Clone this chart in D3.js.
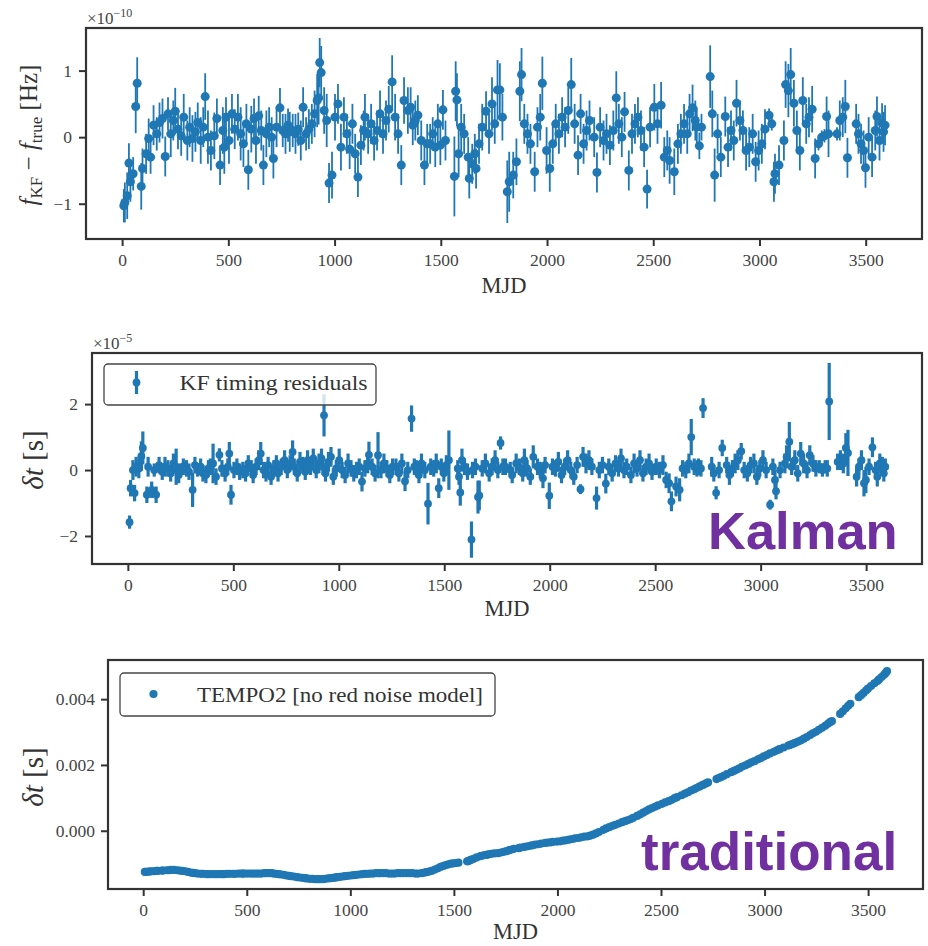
<!DOCTYPE html>
<html>
<head>
<meta charset="utf-8">
<script src="https://cdn.jsdelivr.net/npm/d3@7/dist/d3.min.js"></script>
<style>
  body { margin: 0; background: #fff; }
  svg text { font-family: "Liberation Serif", "DejaVu Serif", serif; }
</style>
</head>
<body>
<svg id="fig" width="928" height="946"></svg>
<script>
// observation epochs (MJD, offset from start), shared by all three panels
const mjd = [
  8, 13, 24, 32, 39, 52, 64, 71, 90, 96, 113, 125, 134, 148, 163, 176,
  190, 203, 216, 229, 241, 250, 263, 278, 290, 307, 318, 331, 345, 356,
  370, 382, 391, 404, 418, 434, 446, 461, 474, 481, 489, 503, 517, 530,
  545, 558, 571, 585, 594, 608, 621, 630, 643, 655, 665, 679, 692, 704, 712,
  727, 743, 756, 769, 781, 789, 803, 816, 829, 841, 852, 866, 879, 893,
  906, 918, 925, 930, 937, 951, 963, 974, 988, 1002, 1016, 1030, 1044, 1058, 1071,
  1084, 1097, 1110, 1124, 1137, 1143, 1158, 1172, 1186, 1200, 1214, 1228, 1242, 1255,
  1271, 1285, 1299, 1314, 1327, 1345, 1358, 1368, 1380, 1392, 1408, 1423, 1436,
  1450, 1462, 1474, 1486, 1498, 1510, 1522, 1564, 1570, 1576, 1584, 1596, 1610,
  1629, 1634, 1648, 1660, 1666, 1680, 1695, 1713, 1727, 1741, 1754, 1767, 1778, 1790,
  1813, 1822, 1841, 1856, 1872, 1880, 1893, 1908, 1922, 1942, 1955, 1968, 1978,
  1998, 2013, 2027, 2041, 2056, 2071, 2085, 2100, 2114, 2130, 2146, 2158,
  2172, 2186, 2200, 2222, 2235, 2250, 2266, 2280, 2296, 2312, 2326, 2338,
  2352, 2365, 2385, 2400, 2414, 2428, 2442, 2457, 2471, 2485, 2505, 2520,
  2537, 2552, 2566, 2577, 2599, 2616, 2630, 2645, 2660, 2671, 2685, 2698,
  2705, 2717, 2727, 2768, 2778, 2789, 2803, 2818, 2839, 2852, 2866, 2879,
  2892, 2908, 2922, 2937, 2952, 2968, 2982, 2996, 3011, 3026, 3045, 3058,
  3068, 3073, 3092, 3115, 3123, 3136, 3147, 3162, 3176, 3190, 3204, 3220, 3233,
  3248, 3262, 3278, 3293, 3306, 3316, 3325, 3365, 3378, 3392, 3404, 3414,
  3455, 3466, 3478, 3490, 3499, 3514, 3530, 3545, 3553, 3565, 3577, 3584, 3591
];

// top: f_KF - f_true, units of 1e-10 Hz
const fKF = [
  -1.03, -0.98, -0.88, -0.39, -0.67, -0.55, 0.46, 0.81, -0.74, -0.47, -0.25, -0.02, -0.30, 0.18, 0.05, 0.22,
  0.28, -0.29, 0.35, 0.05, 0.25, 0.39, 0.12, 0.02, 0.3, -0.05, 0.15, -0.02, 0.08, 0.22,
  -0.05, 0.15, 0.61, 0.0, -0.2, 0.02, 0.28, -0.42, 0.1, -0.15, 0.3, -0.05, 0.35, 0.12,
  0.3, 0.05, -0.1, 0.2, -0.49, 0.12, 0.28, -0.05, 0.32, 0.1, -0.42, 0.05, 0.15, 0.0, -0.32,
  0.15, 0.44, 0.1, 0.05, 0.18, 0.08, 0.1, 0.05, 0.12, -0.05, 0.45, 0.05, 0.12, 0.2,
  0.35, 0.55, 0.59, 1.12, 0.97, 0.4, 0.25, -0.69, -0.57, 0.3, 0.5, -0.15, 0.3, 0.05, -0.18,
  0.2, -0.25, -0.6, -0.12, 0.1, 0.3, 0.05, 0.2, -0.05, 0.1, 0.35, 0.05, 0.25, 0.42,
  0.83, 0.3, 0.05, -0.42, 0.55, 0.4, 0.45, 0.18, 0.25, 0.33, -0.05, -0.42, -0.1,
  -0.1, 0.05, -0.15, 0.2, -0.12, 0.41, -0.05, -0.59, 0.69, 0.56, -0.25, 0.15, 0.05,
  -0.3, -0.62, -0.4, -0.25, -0.47, -0.1, 0.15, 0.39, 0.05, 0.5, 0.2, 0.71, 0.71, 0.3,
  -0.82, -0.67, -0.57, -0.37, 0.69, 0.94, 0.2, 0.05, -0.1, -0.52, 0.15, 0.3, 0.81,
  -0.2, -0.47, -0.1, 0.2, 0.05, 0.3, 0.15, 0.4, 0.79, 0.2, -0.27, 0.35,
  -0.1, 0.1, 0.25, 0.0, -0.53, 0.15, -0.05, 0.05, -0.12, 0.1, 0.59, 0.2,
  0.0, 0.38, -0.5, 0.05, 0.2, 0.3, 0.1, -0.15, -0.78, 0.15, 0.45, 0.2,
  0.48, -0.3, -0.2, -0.35, -0.52, -0.1, 0.05, 0.2, 0.05, 0.35, 0.44, 0.25,
  0.15, -0.13, 0.15, 0.91, 0.35, -0.57, 0.05, -0.3, 0.31, -0.15, 0.1, -0.05,
  0.51, 0.25, 0.1, -0.2, -0.15, 0.05, -0.37, -0.2, -0.1, 0.12, 0.33, 0.2,
  -0.67, -0.55, -0.42, -0.05, 0.79, 0.7, 0.94, 0.51, 0.1, -0.2, 0.55, 0.2, 0.3,
  0.42, -0.32, -0.1, 0.0, 0.02, 0.31, 0.05, 0.05, 0.25, 0.3, 0.46, -0.31,
  0.2, 0.05, -0.1, -0.2, -0.46, 0.0, -0.3, 0.1, 0.31, -0.05, 0.21, 0.08, 0.18
];
const fKFErr = [
  0.25, 0.3, 0.35, 0.3, 0.3, 0.25, 0.4, 0.39, 0.35, 0.3, 0.3, 0.3, 0.25, 0.3, 0.25, 0.3,
  0.3, 0.3, 0.25, 0.35, 0.3, 0.35, 0.3, 0.3, 0.35, 0.3, 0.3, 0.35, 0.3, 0.3,
  0.35, 0.3, 0.35, 0.4, 0.3, 0.35, 0.3, 0.3, 0.35, 0.4, 0.3, 0.35, 0.3, 0.3,
  0.35, 0.4, 0.35, 0.3, 0.3, 0.35, 0.3, 0.35, 0.3, 0.3, 0.3, 0.35, 0.3, 0.3, 0.3,
  0.3, 0.3, 0.25, 0.3, 0.25, 0.3, 0.25, 0.3, 0.25, 0.3, 0.3, 0.25, 0.3, 0.3,
  0.35, 0.4, 0.4, 0.37, 0.4, 0.35, 0.4, 0.3, 0.35, 0.35, 0.3, 0.35, 0.3, 0.3, 0.3,
  0.3, 0.3, 0.3, 0.3, 0.3, 0.35, 0.3, 0.3, 0.3, 0.3, 0.35, 0.3, 0.3, 0.35,
  0.4, 0.35, 0.3, 0.3, 0.35, 0.35, 0.3, 0.3, 0.3, 0.3, 0.3, 0.3, 0.3,
  0.3, 0.25, 0.3, 0.3, 0.3, 0.3, 0.3, 0.6, 0.45, 0.4, 0.35, 0.35, 0.3,
  0.3, 0.3, 0.3, 0.3, 0.3, 0.3, 0.35, 0.3, 0.3, 0.4, 0.3, 0.45, 0.4, 0.35,
  0.47, 0.45, 0.35, 0.35, 0.45, 0.4, 0.3, 0.3, 0.3, 0.3, 0.3, 0.35, 0.4,
  0.35, 0.35, 0.3, 0.3, 0.3, 0.3, 0.3, 0.35, 0.4, 0.3, 0.3, 0.3,
  0.3, 0.3, 0.3, 0.3, 0.3, 0.3, 0.3, 0.3, 0.3, 0.3, 0.4, 0.3,
  0.3, 0.3, 0.3, 0.3, 0.3, 0.3, 0.3, 0.3, 0.29, 0.3, 0.35, 0.3,
  0.35, 0.3, 0.3, 0.35, 0.35, 0.3, 0.3, 0.3, 0.3, 0.3, 0.35, 0.3,
  0.3, 0.2, 0.2, 0.47, 0.35, 0.4, 0.3, 0.3, 0.3, 0.3, 0.3, 0.3,
  0.35, 0.3, 0.3, 0.3, 0.3, 0.3, 0.3, 0.3, 0.3, 0.3, 0.1, 0.1,
  0.3, 0.3, 0.3, 0.3, 0.35, 0.4, 0.4, 0.35, 0.3, 0.3, 0.35, 0.3, 0.3,
  0.35, 0.3, 0.1, 0.1, 0.1, 0.3, 0.35, 0.1, 0.3, 0.3, 0.4, 0.3,
  0.3, 0.3, 0.3, 0.3, 0.3, 0.3, 0.3, 0.3, 0.3, 0.3, 0.3, 0.3, 0.3
];

// middle: KF timing residuals, units of 1e-5 s
const dtKF = [
  -1.58, -0.55, 0.0, -0.70, 0.1, 0.05, 0.42, 0.67, -0.75, 0.1, -0.6, 0.0, -0.75, 0.15, -0.05, 0.1,
  0.05, -0.1, 0.2, 0.1, -0.15, 0.0, 0.1, 0.05, -0.05, -0.6, 0.15, 0.0, 0.1, -0.1,
  -0.15, 0.05, 0.1, 0.2, -0.2, 0.46, 0.05, -0.1, 0.1, 0.5, -0.75, 0.0, 0.1, -0.05,
  0.0, -0.1, 0.2, 0.05, -0.15, 0.1, 0.3, 0.5, 0.0, -0.1, 0.15, -0.2, 0.05, 0.2, -0.1,
  0.1, 0.3, 0.0, 0.2, 0.55, 0.1, -0.1, 0.25, 0.15, -0.05, 0.3, 0.1, 0.35, 0.0,
  0.2, 0.35, 0.1, 1.66, -0.1, 0.25, 0.4, -0.2, 0.05, 0.3, 0.0, -0.15, 0.2, 0.05, -0.1,
  0.0, 0.1, -0.35, 0.05, 0.2, 0.46, 0.1, -0.1, 0.45, 0.0, 0.2, 0.05, -0.15, 0.1,
  0.1, -0.1, 0.2, -0.34, 0.0, 1.56, 0.1, 0.05, -0.15, 0.2, 0.0, -1.02, 0.1,
  0.05, 0.2, -0.55, 0.1, -0.1, 0.15, 0.3, 0.05, -0.2, -0.68, 0.3, 0.1, -0.05,
  -2.11, 0.0, 0.1, -0.82, -0.77, 0.05, 0.2, -0.1, 0.1, 0.3, 0.0, 0.82, 0.1, 0.1,
  0.0, -0.15, 0.2, 0.1, -0.1, 0.3, 0.05, -0.2, 0.4, 0.1, 0.0, -0.25, 0.15,
  -0.78, 0.1, 0.05, 0.25, -0.15, 0.1, 0.3, 0.0, -0.2, 0.15, -0.58, 0.4,
  0.2, 0.3, 0.1, -0.85, 0.0, 0.15, -0.41, 0.1, -0.1, 0.2, 0.05, 0.35,
  0.0, 0.1, -0.15, 0.2, 0.05, 0.3, -0.1, 0.1, 0.2, -0.05, 0.1, 0.0,
  0.15, -0.3, -0.4, -0.95, -0.5, -0.6, 0.05, 0.0, 0.2, 1.0, 0.1, 0.05,
  0.1, 0.05, 1.88, 0.1, -0.1, -0.69, 0.0, 0.67, 0.15, -0.15, 0.05, 0.2,
  0.3, 0.57, 0.0, -0.1, 0.15, 0.2, -0.2, 0.05, 0.3, 0.0, -1.05, 0.1,
  -0.3, -0.64, 0.0, 0.2, 0.4, 0.86, 0.1, 0.3, -0.1, 0.5, 0.2, 0.0, 0.45,
  0.2, 0.05, 0.1, 0.0, 0.1, 0.05, 2.08, 0.25, 0.3, 0.2, 0.67, 0.52,
  -0.2, 0.1, 0.3, -0.4, -0.3, 0.1, 0.69, 0.0, -0.2, 0.2, 0.15, -0.1, 0.1
];
const dtKFErr = [
  0.2, 0.25, 0.3, 0.25, 0.3, 0.3, 0.45, 0.5, 0.25, 0.3, 0.25, 0.2, 0.25, 0.25, 0.25, 0.3,
  0.25, 0.25, 0.3, 0.55, 0.25, 0.2, 0.25, 0.25, 0.25, 0.52, 0.25, 0.2, 0.25, 0.25,
  0.25, 0.25, 0.25, 0.6, 0.25, 0.2, 0.25, 0.25, 0.25, 0.35, 0.3, 0.25, 0.25, 0.25,
  0.25, 0.25, 0.25, 0.25, 0.25, 0.25, 0.3, 0.35, 0.25, 0.25, 0.25, 0.25, 0.25, 0.25, 0.25,
  0.25, 0.3, 0.25, 0.25, 0.35, 0.25, 0.25, 0.3, 0.25, 0.25, 0.3, 0.25, 0.3, 0.25,
  0.3, 0.3, 0.25, 0.64, 0.25, 0.3, 0.3, 0.25, 0.25, 0.35, 0.25, 0.25, 0.3, 0.25, 0.25,
  0.25, 0.25, 0.3, 0.25, 0.3, 0.4, 0.25, 0.25, 0.7, 0.25, 0.3, 0.25, 0.25, 0.25,
  0.25, 0.25, 0.3, 0.3, 0.25, 0.4, 0.25, 0.25, 0.25, 0.3, 0.25, 0.63, 0.25,
  0.25, 0.3, 0.3, 0.25, 0.25, 0.3, 0.9, 0.25, 0.25, 0.4, 0.35, 0.25, 0.25,
  0.55, 0.25, 0.25, 0.5, 0.45, 0.25, 0.3, 0.25, 0.25, 0.3, 0.25, 0.2, 0.25, 0.25,
  0.25, 0.25, 0.3, 0.25, 0.25, 0.35, 0.25, 0.25, 0.35, 0.25, 0.25, 0.3, 0.25,
  0.4, 0.25, 0.25, 0.3, 0.25, 0.25, 0.3, 0.25, 0.25, 0.25, 0.15, 0.3,
  0.3, 0.3, 0.25, 0.35, 0.25, 0.25, 0.3, 0.25, 0.25, 0.25, 0.25, 0.3,
  0.25, 0.25, 0.25, 0.3, 0.25, 0.3, 0.25, 0.25, 0.3, 0.25, 0.25, 0.25,
  0.3, 0.25, 0.3, 0.3, 0.3, 0.35, 0.25, 0.25, 0.3, 0.55, 0.25, 0.25,
  0.25, 0.25, 0.3, 0.3, 0.25, 0.2, 0.25, 0.25, 0.25, 0.3, 0.25, 0.3,
  0.3, 0.25, 0.25, 0.25, 0.25, 0.3, 0.25, 0.25, 0.3, 0.25, 0.15, 0.25,
  0.3, 0.25, 0.25, 0.3, 0.35, 0.6, 0.25, 0.3, 0.25, 0.35, 0.3, 0.25, 0.3,
  0.25, 0.25, 0.2, 0.2, 0.2, 0.25, 1.17, 0.25, 0.3, 0.3, 0.45, 0.7,
  0.3, 0.25, 0.3, 0.4, 0.4, 0.25, 0.3, 0.25, 0.3, 0.3, 0.25, 0.25, 0.25
];

// bottom: TEMPO2 residuals without red noise model, units of ms
const dtTempo = [
  -1.25, -1.25, -1.24, -1.24, -1.23, -1.23, -1.22, -1.22, -1.21, -1.21, -1.20, -1.20, -1.19, -1.19, -1.20, -1.21,
  -1.22, -1.23, -1.25, -1.27, -1.28, -1.29, -1.30, -1.31, -1.31, -1.32, -1.32, -1.32, -1.32, -1.32,
  -1.32, -1.32, -1.32, -1.31, -1.31, -1.31, -1.31, -1.30, -1.30, -1.30, -1.30, -1.30, -1.30, -1.30,
  -1.30, -1.30, -1.30, -1.29, -1.29, -1.29, -1.29, -1.30, -1.31, -1.32, -1.33, -1.34, -1.36, -1.37, -1.38,
  -1.39, -1.41, -1.42, -1.43, -1.44, -1.45, -1.46, -1.46, -1.47, -1.47, -1.47, -1.47, -1.46, -1.45,
  -1.44, -1.43, -1.42, -1.42, -1.41, -1.40, -1.39, -1.38, -1.37, -1.36, -1.35, -1.34, -1.33, -1.32, -1.31,
  -1.31, -1.30, -1.30, -1.29, -1.29, -1.29, -1.29, -1.29, -1.30, -1.30, -1.30, -1.29, -1.29, -1.29,
  -1.29, -1.29, -1.29, -1.30, -1.30, -1.29, -1.27, -1.26, -1.24, -1.22, -1.18, -1.14, -1.10,
  -1.07, -1.04, -1.02, -1.00, -0.99, -0.98, -0.97, -0.93, -0.92, -0.90, -0.88, -0.85, -0.81,
  -0.77, -0.76, -0.74, -0.73, -0.72, -0.70, -0.69, -0.68, -0.66, -0.64, -0.62, -0.59, -0.57, -0.55,
  -0.53, -0.51, -0.49, -0.47, -0.45, -0.44, -0.42, -0.41, -0.39, -0.37, -0.36, -0.35, -0.34,
  -0.33, -0.32, -0.30, -0.29, -0.27, -0.25, -0.23, -0.22, -0.20, -0.18, -0.17, -0.15,
  -0.12, -0.08, -0.04, 0.03, 0.07, 0.11, 0.15, 0.18, 0.22, 0.26, 0.29, 0.32,
  0.35, 0.39, 0.45, 0.50, 0.55, 0.60, 0.65, 0.69, 0.73, 0.77, 0.82, 0.86,
  0.90, 0.94, 0.99, 1.02, 1.08, 1.13, 1.17, 1.22, 1.26, 1.30, 1.34, 1.38,
  1.40, 1.44, 1.47, 1.57, 1.60, 1.63, 1.67, 1.72, 1.78, 1.82, 1.86, 1.90,
  1.95, 1.99, 2.03, 2.08, 2.12, 2.17, 2.21, 2.26, 2.30, 2.35, 2.40, 2.44,
  2.47, 2.48, 2.53, 2.59, 2.61, 2.64, 2.67, 2.71, 2.75, 2.80, 2.85, 2.91, 2.96,
  3.01, 3.07, 3.13, 3.19, 3.25, 3.30, 3.33, 3.55, 3.63, 3.72, 3.80, 3.86,
  4.06, 4.12, 4.19, 4.26, 4.32, 4.40, 4.48, 4.55, 4.60, 4.67, 4.74, 4.79, 4.85
];

const xTicks = [0, 500, 1000, 1500, 2000, 2500, 3000, 3500];
const fTicks = [-1, 0, 1];
const kfTicks = [-2, 0, 2];
const tempoTicks = [0, 0.002, 0.004];

[fKF, fKFErr, dtKF, dtKFErr, dtTempo].forEach((a, k) => {
  if (a.length !== mjd.length) throw new Error("array " + k + " has " + a.length + " != " + mjd.length);
});

const blue = "#1f77b4", ink = "#333", tickInk = "#444", purple = "#7030a0";
const xDomain = [-170, 3765];
const idx = d3.range(mjd.length);
const svg = d3.select("#fig");

const box1 = {l: 86, r: 922, t: 28, b: 239},
      box2 = {l: 92, r: 922, t: 353, b: 564},
      box3 = {l: 108, r: 923, t: 660, b: 889};

function scales(box, yDomain) {
  return {
    x: d3.scaleLinear().domain(xDomain).range([box.l, box.r]),
    y: d3.scaleLinear().domain(yDomain).range([box.b, box.t])
  };
}

function errorbars(s, vals, errs, lw, r) {
  const g = svg.append("g");
  g.selectAll("line").data(idx).join("line")
    .attr("x1", i => s.x(mjd[i])).attr("x2", i => s.x(mjd[i]))
    .attr("y1", i => s.y(vals[i] - errs[i])).attr("y2", i => s.y(vals[i] + errs[i]))
    .attr("stroke", blue).attr("stroke-width", lw);
  g.selectAll("circle").data(idx).join("circle")
    .attr("cx", i => s.x(mjd[i])).attr("cy", i => s.y(vals[i]))
    .attr("r", r).attr("fill", blue);
}

function frame(box, s, yTicks, yFmt, yPad, labelDy) {
  const gx = svg.append("g").attr("transform", `translate(0,${box.b})`)
    .call(d3.axisBottom(s.x).tickValues(xTicks).tickSize(7).tickPadding(8).tickFormat(d3.format("d")));
  const gy = svg.append("g").attr("transform", `translate(${box.l},0)`)
    .call(d3.axisLeft(s.y).tickValues(yTicks).tickSize(7).tickPadding(yPad).tickFormat(yFmt));
  [gx, gy].forEach(a => {
    a.select(".domain").remove();
    a.selectAll(".tick line").attr("stroke", ink).attr("stroke-width", 2);
    a.selectAll(".tick text").attr("fill", tickInk).attr("font-size", 17.5)
      .style("font-family", '"Liberation Serif", serif');
  });
  svg.append("rect")
    .attr("x", box.l).attr("y", box.t)
    .attr("width", box.r - box.l).attr("height", box.b - box.t)
    .attr("fill", "none").attr("stroke", ink).attr("stroke-width", 2.2);
  svg.append("text")
    .attr("x", (box.l + box.r) / 2).attr("y", box.b + labelDy)
    .attr("text-anchor", "middle").attr("font-size", 22.5).attr("fill", "#333")
    .text("MJD");
}

function offsetLabel(x, y, exp) {
  const t = svg.append("text").attr("x", x).attr("y", y).attr("font-size", 17).attr("fill", tickInk);
  t.append("tspan").text("×10");
  t.append("tspan").attr("font-size", 12).attr("dy", -7).text(exp);
}

function dtLabel(x, y) {
  const t = svg.append("text").attr("transform", `translate(${x},${y}) rotate(-90)`)
    .attr("text-anchor", "middle").attr("font-size", 29).attr("fill", "#333");
  t.append("tspan").attr("font-style", "italic").text("δt");
  t.append("tspan").text(" [s]");
}

// ---- panel 1: frequency residuals
const s1 = scales(box1, [-1.53, 1.64]);
errorbars(s1, fKF, fKFErr, 1.8, 4.5);
frame(box1, s1, fTicks, d3.format("d"), 7, 54);
offsetLabel(87, 24, "−10");
{
  const t = svg.append("text").attr("transform", "translate(37,135) rotate(-90)")
    .attr("text-anchor", "middle").attr("font-size", 25).attr("fill", "#333");
  t.append("tspan").attr("font-style", "italic").text("f");
  t.append("tspan").attr("font-size", 17).attr("dy", 5).text("KF");
  t.append("tspan").attr("dy", -5).text(" − ");
  t.append("tspan").attr("font-style", "italic").text("f");
  t.append("tspan").attr("font-size", 17).attr("dy", 5).text("true");
  t.append("tspan").attr("dy", -5).text(" [Hz]");
}

// ---- panel 2: KF timing residuals
const s2 = scales(box2, [-2.85, 3.55]);
errorbars(s2, dtKF, dtKFErr, 3.2, 3.9);
frame(box2, s2, kfTicks, d3.format("d"), 7, 52);
offsetLabel(93, 349, "−5");
dtLabel(43, 460);
{
  const lx = box2.l + 12, ly = box2.t + 11;
  svg.append("rect").attr("x", lx).attr("y", ly).attr("width", 272).attr("height", 41).attr("rx", 4)
    .attr("fill", "#fff").attr("fill-opacity", 0.8).attr("stroke", "#444").attr("stroke-width", 1.3);
  svg.append("line").attr("x1", lx + 32.5).attr("x2", lx + 32.5).attr("y1", ly + 7).attr("y2", ly + 30)
    .attr("stroke", blue).attr("stroke-width", 3.2);
  svg.append("circle").attr("cx", lx + 32.5).attr("cy", ly + 18.5).attr("r", 3.9).attr("fill", blue);
  svg.append("text").attr("x", lx + 75.5).attr("y", ly + 26).attr("font-size", 22).attr("fill", "#333")
    .attr("textLength", 188).attr("lengthAdjust", "spacingAndGlyphs").text("KF timing residuals");
}
svg.append("text").attr("x", 708).attr("y", 549)
  .style("font-family", '"Liberation Sans", Arial, sans-serif')
  .attr("font-weight", "bold").attr("font-size", 52.5).attr("fill", purple).text("Kalman");

// ---- panel 3: TEMPO2 residuals
const s3 = scales(box3, [-0.00177, 0.00519]);
svg.append("g").selectAll("circle").data(idx).join("circle")
  .attr("cx", i => s3.x(mjd[i])).attr("cy", i => s3.y(dtTempo[i] * 1e-3))
  .attr("r", 4.1).attr("fill", blue);
frame(box3, s3, tempoTicks, d3.format(".3f"), 6, 50);
dtLabel(43, 777);
{
  const lx = box3.l + 12, ly = box3.t + 13;
  svg.append("rect").attr("x", lx).attr("y", ly).attr("width", 375).attr("height", 43).attr("rx", 4)
    .attr("fill", "#fff").attr("fill-opacity", 0.8).attr("stroke", "#444").attr("stroke-width", 1.3);
  svg.append("circle").attr("cx", lx + 33.5).attr("cy", ly + 21).attr("r", 4.1).attr("fill", blue);
  svg.append("text").attr("x", lx + 77).attr("y", ly + 28.5).attr("font-size", 22).attr("fill", "#333")
    .attr("textLength", 286).attr("lengthAdjust", "spacingAndGlyphs").text("TEMPO2 [no red noise model]");
}
svg.append("text").attr("x", 641).attr("y", 870)
  .style("font-family", '"Liberation Sans", Arial, sans-serif')
  .attr("font-weight", "bold").attr("font-size", 53).attr("fill", purple).text("traditional");
</script>
</body>
</html>
